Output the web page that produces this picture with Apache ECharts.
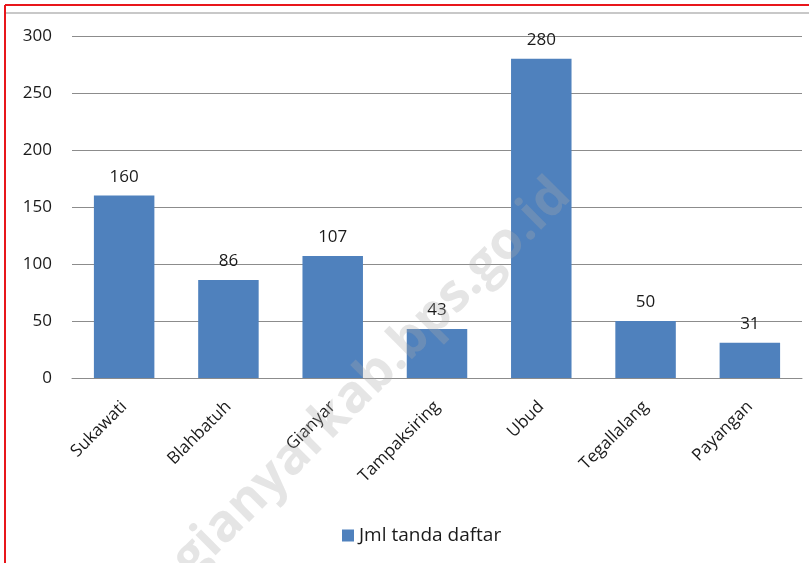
<!DOCTYPE html>
<html>
<head>
<meta charset="utf-8">
<script src="https://cdn.jsdelivr.net/npm/echarts@6/dist/echarts.min.js"></script>
<style>
  html, body { margin: 0; padding: 0; background: #fff; }
  #chart { width: 809px; height: 563px; }
</style>
</head>
<body>
<div id="chart"></div>
<script>
// data
const kecamatan = ['Sukawati', 'Blahbatuh', 'Gianyar', 'Tampaksiring', 'Ubud', 'Tegallalang', 'Payangan']
const jmlTandaDaftar = [160, 86, 107, 43, 280, 50, 31]
const seriesName = 'Jml tanda daftar'

const myChart = echarts.init(document.getElementById('chart'))
const font = 'Open Sans, Liberation Sans, sans-serif'

myChart.setOption({
  backgroundColor: '#fff',
  animation: false,
  grid: {
    left: 72,
    right: 7,
    top: 36,
    bottom: 185
  },
  legend: {
    bottom: 13,
    left: 337,
    itemWidth: 12,
    itemHeight: 12,
    itemGap: 6,
    icon: 'rect',
    textStyle: { fontFamily: font, fontSize: 19, color: '#1a1a1a' },
    data: [seriesName]
  },
  xAxis: {
    type: 'category',
    data: kecamatan,
    axisTick: { show: false },
    axisLine: { lineStyle: { color: '#8c8c8c', width: 1 } },
    axisLabel: {
      rotate: 45,
      margin: 26,
      interval: 0,
      fontFamily: font,
      fontSize: 17,
      color: '#1a1a1a'
    }
  },
  yAxis: {
    type: 'value',
    min: 0,
    max: 300,
    interval: 50,
    axisLabel: {
      fontFamily: font,
      fontSize: 17,
      color: '#1a1a1a',
      margin: 20
    },
    splitLine: { lineStyle: { color: '#8c8c8c', width: 1 } }
  },
  series: [{
    name: seriesName,
    type: 'bar',
    barCategoryGap: '42%',
    data: jmlTandaDaftar,
    itemStyle: { color: '#4F81BD' },
    label: {
      show: true,
      position: 'top',
      distance: 10,
      fontFamily: font,
      fontSize: 17,
      color: '#1a1a1a'
    }
  }],
  graphic: [
    // watermark
    {
      type: 'text',
      x: 372, y: 378,
      rotation: Math.PI / 4,
      style: {
        text: 'gianyarkab.bps.go.id',
        x: 0, y: 0,
        align: 'center',
        verticalAlign: 'middle',
        font: 'bold 52px Open Sans, sans-serif',
        fill: 'rgba(170,170,170,0.3)'
      },
      z: 100
    },
    // sheet frame
    { type: 'line', shape: { x1: 6, y1: 13, x2: 809, y2: 13 }, style: { stroke: '#c8c8c8', lineWidth: 2 } },
    { type: 'line', shape: { x1: 5, y1: 5, x2: 809, y2: 5 }, style: { stroke: '#e8161b', lineWidth: 2 } },
    { type: 'line', shape: { x1: 5, y1: 5, x2: 5, y2: 563 }, style: { stroke: '#e8161b', lineWidth: 2 } }
  ]
})
</script>
</body>
</html>
